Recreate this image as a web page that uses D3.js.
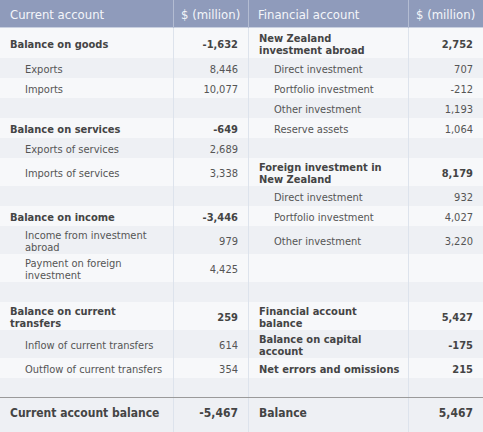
<!DOCTYPE html>
<html>
<head>
<meta charset="utf-8">
<script src="https://cdn.jsdelivr.net/npm/d3@7"></script>
<style>
  body { margin: 0; background: #fff; }
  svg { display: block; }
</style>
</head>
<body>
<svg id="table"></svg>
<script>
// table data, one entry per body row (| marks a line break)
var headers = ["Current account", "$ (million)", "Financial account", "$ (million)"];

var currentLabels = ["Balance on goods", "Exports", "Imports", "", "Balance on services",
  "Exports of services", "Imports of services", "", "Balance on income",
  "Income from investment|abroad", "Payment on foreign|investment", "",
  "Balance on current|transfers", "Inflow of current transfers", "Outflow of current transfers", ""];
var currentValues = [-1632, 8446, 10077, null, -649, 2689, 3338, null, -3446, 979, 4425, null, 259, 614, 354, null];
var currentBold = [1, 0, 0, 0, 1, 0, 0, 0, 1, 0, 0, 0, 1, 0, 0, 0];

var financialLabels = ["New Zealand|investment abroad", "Direct investment", "Portfolio investment",
  "Other investment", "Reserve assets", "", "Foreign investment in|New Zealand",
  "Direct investment", "Portfolio investment", "Other investment", "", "",
  "Financial account|balance", "Balance on capital|account", "Net errors and omissions", ""];
var financialValues = [2752, 707, -212, 1193, 1064, null, 8179, 932, 4027, 3220, null, null, 5427, -175, 215, null];
var financialBold = [1, 0, 0, 0, 0, 0, 1, 0, 0, 0, 0, 0, 1, 1, 1, 0];

var totalLabels = ["Current account balance", "Balance"];
var totalValues = [-5467, 5467];

var width = 483, height = 432;
var headerH = 28, lineRowH = 20, twoLineRowH = 28;

var svg = d3.select("#table")
  .attr("width", width)
  .attr("height", height)
  .style("font-family", "'DejaVu Sans Condensed', 'DejaVu Sans', sans-serif");

// column edges
var colX = d3.scaleOrdinal()
  .domain(["c1", "c2", "c3", "c4", "end"])
  .range([0, 173, 248, 408, 483]);
var fmt = d3.format(",");
var fmtVal = function(v){ return fmt(v).replace("−", "-"); };

// row layout from the number of text lines (first row has a bit of extra top padding)
var rows = currentLabels.map(function(lab, i){
  var a = lab.split("|"), b = financialLabels[i].split("|");
  return {
    left: a, right: b,
    lv: currentValues[i], rv: financialValues[i],
    lb: currentBold[i], rb: financialBold[i],
    h: (Math.max(a.length, b.length) > 1 ? twoLineRowH : lineRowH) + (i === 0 ? 2 : 0)
  };
});
var yPos = headerH;
rows.forEach(function(r){ r.y = yPos; yPos += r.h; });
var totalY = yPos - 1;

// header
svg.append("rect")
  .attr("x", 0).attr("y", 0)
  .attr("width", width).attr("height", headerH)
  .attr("fill", "#8f9bbb");

svg.append("line")
  .attr("x1", 0).attr("x2", width)
  .attr("y1", headerH - 0.5).attr("y2", headerH - 0.5)
  .attr("stroke", "#c9d0e0");

// body rows
var rowG = svg.selectAll("g.row")
  .data(rows)
  .enter()
  .append("g")
  .attr("class", "row")
  .attr("transform", function(d){ return "translate(0," + d.y + ")"; });

rowG.append("rect")
  .attr("width", width)
  .attr("height", function(d){ return d.h; })
  .attr("fill", function(d, i){ return i % 2 ? "#eef0f4" : "#f7f8fa"; });

function addLabel(sel, key, boldKey, x0)
{
  sel.each(function(d){
    var lines = d[key];
    var bold = d[boldKey];
    var t = d3.select(this).append("text")
      .attr("x", bold ? x0 : x0 + 15)
      .attr("font-size", 11)
      .attr("font-weight", bold ? "bold" : "normal")
      .attr("fill", bold ? "#444444" : "#555555");
    var start = d.h / 2 + 5 - (lines.length - 1) * 6;
    lines.forEach(function(l, j){
      t.append("tspan").attr("x", bold ? x0 : x0 + 15)
        .attr("y", start + j * 12).text(l);
    });
  });
}

function addValue(sel, key, boldKey, xr)
{
  sel.filter(function(d){ return d[key] !== null; })
    .append("text")
    .attr("x", xr)
    .attr("y", function(d){ return d.h / 2 + 5; })
    .attr("text-anchor", "end")
    .attr("font-size", 11)
    .attr("font-weight", function(d){ return d[boldKey] ? "bold" : "normal"; })
    .attr("fill", function(d){ return d[boldKey] ? "#444444" : "#555555"; })
    .text(function(d){ return fmtVal(d[key]); });
}

addLabel(rowG, "left", "lb", colX("c1") + 10);
addValue(rowG, "lv", "lb", colX("c3") - 10);
addLabel(rowG, "right", "rb", colX("c3") + 11);
addValue(rowG, "rv", "rb", colX("end") - 10);

// total row
svg.append("rect")
  .attr("x", 0).attr("y", totalY)
  .attr("width", width).attr("height", height - totalY)
  .attr("fill", "#eef0f4");

// column separators
svg.selectAll("line.sep")
  .data(["c2", "c3", "c4"])
  .enter()
  .append("line")
  .attr("class", "sep")
  .attr("x1", function(d){ return colX(d) + 0.5; })
  .attr("x2", function(d){ return colX(d) + 0.5; })
  .attr("y1", headerH).attr("y2", height)
  .attr("stroke", "#dde3ec");

svg.selectAll("line.hsep")
  .data(["c2", "c3", "c4"])
  .enter()
  .append("line")
  .attr("class", "hsep")
  .attr("x1", function(d){ return colX(d) + 0.5; })
  .attr("x2", function(d){ return colX(d) + 0.5; })
  .attr("y1", 0).attr("y2", headerH)
  .attr("stroke", "#b3bcd2");

svg.append("line")
  .attr("x1", 0).attr("x2", width)
  .attr("y1", totalY + 0.5).attr("y2", totalY + 0.5)
  .attr("stroke", "#9a9a9a");

// header text
svg.selectAll("text.head")
  .data(headers)
  .enter()
  .append("text")
  .attr("class", "head")
  .attr("x", function(d, i){ return colX(["c1", "c2", "c3", "c4"][i]) + (i % 2 ? 8 : 10); })
  .attr("y", 19)
  .attr("font-size", 13)
  .attr("fill", "#f4f6fa")
  .text(function(d){ return d; });

// total text
var totalBase = totalY + 20;
svg.selectAll("text.totlab")
  .data(totalLabels)
  .enter()
  .append("text")
  .attr("class", "totlab")
  .attr("x", function(d, i){ return i ? colX("c3") + 11 : colX("c1") + 10; })
  .attr("y", totalBase)
  .attr("font-size", 12)
  .attr("font-weight", "bold")
  .attr("fill", "#444444")
  .text(function(d){ return d; });

svg.selectAll("text.totval")
  .data(totalValues)
  .enter()
  .append("text")
  .attr("class", "totval")
  .attr("x", function(d, i){ return i ? colX("end") - 10 : colX("c3") - 10; })
  .attr("y", totalBase)
  .attr("text-anchor", "end")
  .attr("font-size", 12)
  .attr("font-weight", "bold")
  .attr("fill", "#444444")
  .text(function(d){ return fmtVal(d); });
</script>
</body>
</html>
